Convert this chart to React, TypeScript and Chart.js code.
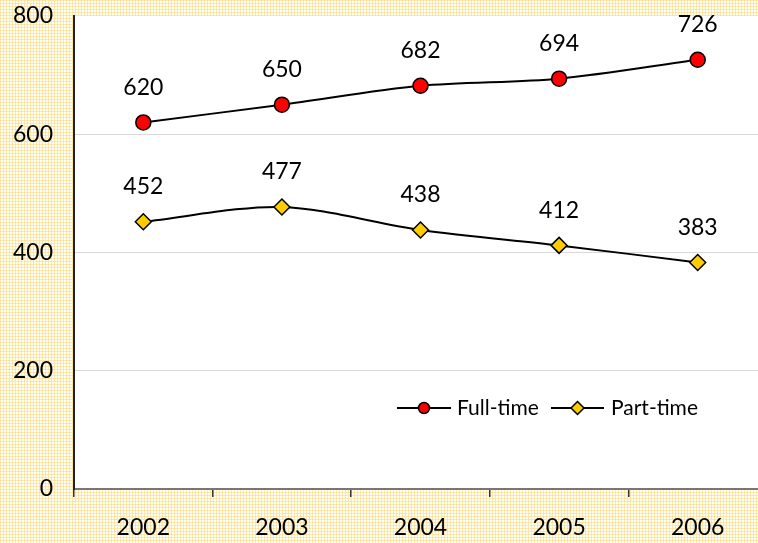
import React, { useEffect, useRef } from "react";
import { Chart, registerables } from "chart.js";

Chart.register(...registerables);

const years = ["2002", "2003", "2004", "2005", "2006"];
const fullTime = [620, 650, 682, 694, 726];
const partTime = [452, 477, 438, 412, 383];
const yTicks = [0, 200, 400, 600, 800];

const FONT = "Lato, 'Open Sans', 'DejaVu Sans', sans-serif";

function makePattern(ctx: CanvasRenderingContext2D) {
  const c = document.createElement("canvas");
  c.width = 3;
  c.height = 3;
  const p = c.getContext("2d")!;
  p.fillStyle = "#fffdf6";
  p.fillRect(0, 0, 3, 3);
  p.fillStyle = "#fce9b0";
  p.fillRect(0, 0, 3, 1);
  p.fillRect(0, 0, 1, 3);
  p.fillStyle = "#fadf98";
  p.fillRect(0, 0, 1, 1);
  return ctx.createPattern(c, "repeat")!;
}

const bgPlugin = {
  id: "bgPattern",
  beforeDraw(chart: any) {
    const ctx = chart.ctx as CanvasRenderingContext2D;
    const a = chart.chartArea;
    ctx.save();
    ctx.fillStyle = makePattern(ctx);
    ctx.fillRect(0, 0, chart.width, chart.height);
    ctx.fillStyle = "#ffffff";
    ctx.fillRect(a.left, a.top, a.right - a.left, a.bottom - a.top);
    ctx.restore();
  },
};

const labelPlugin = {
  id: "valueLabels",
  afterDatasetsDraw(chart: any) {
    const ctx = chart.ctx as CanvasRenderingContext2D;
    ctx.save();
    ctx.font = `23px ${FONT}`;
    ctx.fillStyle = "#000";
    ctx.textAlign = "center";
    ctx.textBaseline = "middle";
    chart.data.datasets.forEach((ds: any, i: number) => {
      const meta = chart.getDatasetMeta(i);
      meta.data.forEach((pt: any, j: number) => {
        ctx.fillText(String(ds.data[j]), pt.x, pt.y - 35);
      });
    });
    ctx.restore();
  },
};

const legendPlugin = {
  id: "innerLegend",
  afterDraw(chart: any) {
    const ctx = chart.ctx as CanvasRenderingContext2D;
    const y = 408;
    const items = [
      { x0: 397, x1: 451, label: chart.data.datasets[0].label, ds: chart.data.datasets[0], tx: 457, r: 5.5 },
      { x0: 551, x1: 604, label: chart.data.datasets[1].label, ds: chart.data.datasets[1], tx: 611, r: 6.5 },
    ];
    ctx.save();
    items.forEach((it) => {
      ctx.strokeStyle = "#000";
      ctx.lineWidth = 2;
      ctx.beginPath();
      ctx.moveTo(it.x0, y);
      ctx.lineTo(it.x1, y);
      ctx.stroke();
      const cx = (it.x0 + it.x1) / 2;
      ctx.fillStyle = it.ds.pointBackgroundColor;
      ctx.lineWidth = 1.5;
      ctx.beginPath();
      if (it.ds.pointStyle === "rectRot") {
        ctx.moveTo(cx - it.r, y);
        ctx.lineTo(cx, y - it.r);
        ctx.lineTo(cx + it.r, y);
        ctx.lineTo(cx, y + it.r);
        ctx.closePath();
      } else {
        ctx.arc(cx, y, it.r, 0, Math.PI * 2);
      }
      ctx.fill();
      ctx.stroke();
      ctx.fillStyle = "#000";
      ctx.font = `21px ${FONT}`;
      ctx.textAlign = "left";
      ctx.textBaseline = "middle";
      ctx.fillText(it.label, it.tx, y);
    });
    ctx.restore();
  },
};

export default function App() {
  const ref = useRef<HTMLCanvasElement | null>(null);

  useEffect(() => {
    document.body.style.margin = "0";
    const canvas = ref.current!;
    const chart = new Chart(canvas, {
      type: "line",
      data: {
        labels: years,
        datasets: [
          {
            label: "Full-time",
            data: fullTime,
            borderColor: "#000",
            borderWidth: 2,
            pointStyle: "circle",
            pointRadius: 7.5,
            pointBorderWidth: 1.5,
            pointBorderColor: "#000",
            pointBackgroundColor: "#ff0000",
            tension: 0.3,
          },
          {
            label: "Part-time",
            data: partTime,
            borderColor: "#000",
            borderWidth: 2,
            pointStyle: "rectRot",
            pointRadius: 8,
            pointBorderWidth: 1.5,
            pointBorderColor: "#000",
            pointBackgroundColor: "#ffcc00",
            tension: 0.3,
          },
        ],
      },
      options: {
        responsive: false,
        animation: false,
        layout: { autoPadding: false, padding: { top: 16, left: 0, right: 0, bottom: 0 } },
        plugins: {
          legend: { display: false },
          tooltip: { enabled: false },
        },
        scales: {
          x: {
            type: "category",
            offset: true,
            afterFit: (s: any) => {
              s.height = 54;
              s.paddingLeft = 0;
              s.paddingRight = 0;
            },
            grid: {
              offset: true,
              drawOnChartArea: false,
              drawTicks: true,
              tickLength: 8,
              color: "#333",
              lineWidth: 1.5,
            },
            border: { color: "#777", width: 2 },
            ticks: {
              color: "#000",
              font: { family: FONT, size: 23 },
              padding: 17,
              maxRotation: 0,
            },
          },
          y: {
            min: yTicks[0],
            max: yTicks[yTicks.length - 1],
            afterFit: (s: any) => {
              s.width = 74;
              s.paddingTop = 0;
              s.paddingBottom = 0;
            },
            afterBuildTicks: (s: any) => {
              s.ticks = yTicks.map((v) => ({ value: v }));
            },
            grid: {
              drawTicks: false,
              color: (c: any) =>
                c.tick && (c.tick.value === 0 || c.tick.value === 800) ? "rgba(0,0,0,0)" : "#d9d9d9",
              lineWidth: 1,
            },
            border: { color: "#222", width: 2 },
            ticks: {
              color: "#000",
              font: { family: FONT, size: 23 },
              padding: 21,
            },
          },
        },
      },
      plugins: [bgPlugin, labelPlugin, legendPlugin],
    });
    return () => chart.destroy();
  }, []);

  return (
    <div style={{ width: 758, height: 543, overflow: "hidden", position: "relative" }}>
      <canvas ref={ref} width={767} height={543} style={{ display: "block" }} />
    </div>
  );
}
